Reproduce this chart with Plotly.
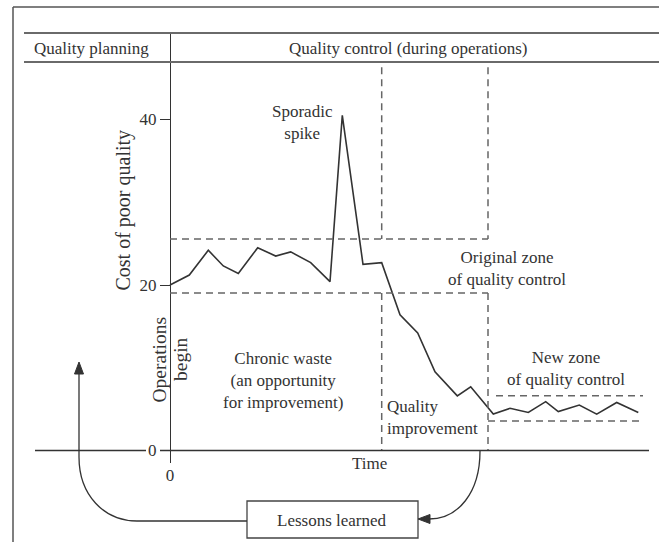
import plotly.graph_objects as go

# ---------------- data ----------------
time = [0, 1.93, 3.83, 5.33, 6.83, 8.77, 10.57, 12.07, 14.07, 16.0, 17.23, 19.3, 21.17,
        23.0, 24.77, 26.5, 28.73, 30.07, 32.33, 34.0, 35.83, 37.57, 38.83, 40.93, 42.67,
        44.67, 46.83]
cost = [20.0, 21.2, 24.2, 22.3, 21.4, 24.5, 23.5, 24.0, 22.7, 20.4, 40.5, 22.5, 22.7,
        16.4, 14.2, 9.5, 6.6, 7.7, 4.4, 5.1, 4.6, 5.9, 4.7, 5.5, 4.4, 5.8, 4.6]

y_ticks = [0, 20, 40]
x_ticks = [0]
x_tick_labels = ["0"]

orig_zone = [19.03, 25.56]       # original zone of quality control (lower, upper)
new_zone = [3.56, 6.62]          # new zone of quality control (lower, upper)
phase_times = [21.17, 31.8]      # start / end of quality improvement
zone_top = 46.3
new_zone_start = [31.8, 32.6]    # lower / upper line start
new_zone_end = 47.3

header_labels = ["Quality planning", "Quality control (during operations)"]

# ---------------- layout helpers ----------------
W, H = 659, 542
FONT = "Liberation Serif"
FS = 17
INK = "#333333"
GREY = "#666666"


def px(x):
    return x / W


def py(y):
    return 1 - y / H


def path(cmds):
    out = []
    for cmd, pts in cmds:
        if not pts:
            out.append(cmd)
        elif cmd == "C":
            out.append("C" + " ".join(f"{px(x):.5f},{py(y):.5f}" for x, y in pts))
        else:
            for x, y in pts:
                out.append(f"{cmd}{px(x):.5f},{py(y):.5f}")
    return " ".join(out)


fig = go.Figure()

fig.add_trace(go.Scatter(x=time, y=cost, mode="lines",
                         line=dict(color=INK, width=1.6), hoverinfo="skip",
                         showlegend=False))

shapes = []
dash = "7px,5px"


def dline(x0, y0, x1, y1):
    shapes.append(dict(type="line", xref="x", yref="y", x0=x0, y0=y0, x1=x1, y1=y1,
                       line=dict(color=GREY, width=1.5, dash=dash)))


# original zone
for v in orig_zone:
    dline(0, v, phase_times[1], v)
# phase verticals
for t in phase_times:
    dline(t, zone_top, t, orig_zone[1])
    dline(t, orig_zone[0], t, 0)
# new zone
dline(new_zone_start[0], new_zone[0], new_zone_end, new_zone[0])
dline(new_zone_start[1], new_zone[1], new_zone_end, new_zone[1])


def pline(x0, y0, x1, y1, color=INK, width=1.4):
    shapes.append(dict(type="line", xref="paper", yref="paper",
                       x0=px(x0), y0=py(y0), x1=px(x1), y1=py(y1),
                       line=dict(color=color, width=width)))


# frame
pline(13, 7, 13, 542, color="#555555", width=1.5)
pline(13, 7, 659, 7, color="#555555", width=1.5)
# header rules
pline(24, 33, 659, 33, color="#6a6a6a", width=2)
pline(24, 62, 659, 62, color="#6a6a6a", width=2)
# time axis (broken around the "0" label)
pline(35, 450.5, 146, 450.5)
pline(160, 450.5, 649, 450.5)

# lessons learned box
shapes.append(dict(type="rect", xref="paper", yref="paper",
                   x0=px(247), y0=py(538), x1=px(418), y1=py(501),
                   line=dict(color="#444444", width=1.3), fillcolor="white"))

# feedback arrows
shapes.append(dict(type="path", xref="paper", yref="paper",
                   path=path([("M", [(247, 521)]), ("L", [(137, 521)]),
                              ("C", [(104, 521), (79, 495), (79, 457)]),
                              ("L", [(79, 372)])]),
                   line=dict(color=INK, width=1.3)))
shapes.append(dict(type="path", xref="paper", yref="paper",
                   path=path([("M", [(79, 362)]), ("L", [(74.5, 374), (83.5, 374)]), ("Z", [])]),
                   line=dict(color=INK, width=1), fillcolor=INK))
shapes.append(dict(type="path", xref="paper", yref="paper",
                   path=path([("M", [(480, 451)]),
                              ("C", [(480, 493), (458, 519), (429, 519)])]),
                   line=dict(color=INK, width=1.3)))
shapes.append(dict(type="path", xref="paper", yref="paper",
                   path=path([("M", [(418, 519)]), ("L", [(430, 514.5), (430, 523.5)]), ("Z", [])]),
                   line=dict(color=INK, width=1), fillcolor=INK))

annotations = []


def label(text, x, y, angle=0, xanchor="center", align="center", size=FS):
    annotations.append(dict(text=text, xref="paper", yref="paper", x=px(x), y=py(y),
                            showarrow=False, xanchor=xanchor, yanchor="middle",
                            align=align, textangle=angle,
                            font=dict(family=FONT, size=size, color=INK)))


label(header_labels[0], 91, 48)
label(header_labels[1], 408, 48)
label("Sporadic<br>spike", 302, 122)
label("Cost of poor quality", 122.5, 210, angle=-90, size=20)
label("Operations", 158.5, 360, angle=-90, size=19.5)
label("begin", 180, 359, angle=-90, size=19.5)
label("Chronic waste<br>(an opportunity<br>for improvement)", 283, 380)
label("Original zone<br>of quality control", 507, 268)
label("Quality<br>improvement", 385, 417, xanchor="left", align="left")
label("New zone<br>of quality control", 566, 368)
label("Lessons learned", 332, 520)
label("Time", 369, 463)

# axis geometry (pixels)
ax_left, ax_right = 35, 649
y_top, y_bot = 33, 463
x0_px, t_scale = 170, 10.0
zero_px, c_scale = 450.5, 8.275

fig.update_layout(
    width=W, height=H, margin=dict(l=0, r=0, t=0, b=0),
    paper_bgcolor="white", plot_bgcolor="rgba(0,0,0,0)",
    shapes=shapes, annotations=annotations,
    xaxis=dict(domain=[px(ax_left), px(ax_right)],
               range=[(ax_left - x0_px) / t_scale, (ax_right - x0_px) / t_scale],
               anchor="free", position=py(y_bot),
               showline=False, showgrid=False, zeroline=False, ticks="",
               tickvals=x_ticks, ticktext=x_tick_labels,
               tickfont=dict(family=FONT, size=FS, color=INK)),
    yaxis=dict(domain=[py(y_bot), py(y_top)],
               range=[(zero_px - y_bot) / c_scale, (zero_px - y_top) / c_scale],
               anchor="free", position=px(x0_px),
               showline=True, linecolor=INK, linewidth=1.4,
               ticks="outside", ticklen=10, tickwidth=1.3, tickcolor=INK,
               tickvals=y_ticks, showgrid=False, zeroline=False,
               tickfont=dict(family=FONT, size=FS, color=INK)),
)

fig.write_html("out.html", config={"displayModeBar": False},
               post_script="document.body.style.margin='0';document.body.style.overflow='hidden';")
